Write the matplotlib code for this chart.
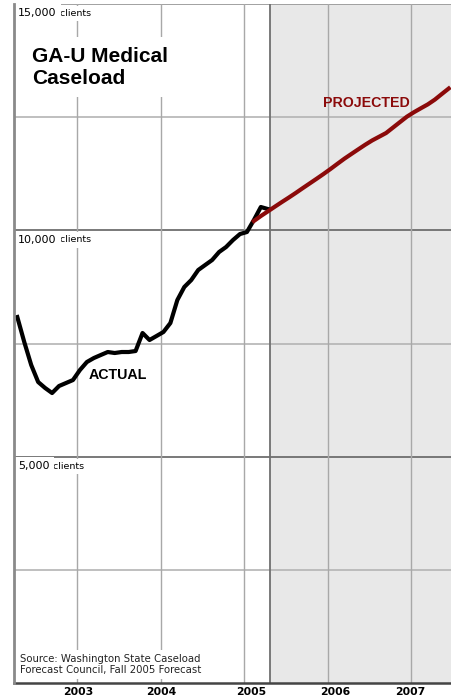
import matplotlib.pyplot as plt

# monthly caseload
actual_start = (2002, 4)
actual = [8085, 7533, 7025, 6649, 6517, 6406, 6561, 6627, 6693, 6914,
          7091, 7179, 7246, 7312, 7290, 7312, 7312, 7334, 7732, 7577,
          7665, 7754, 7952, 8460, 8748, 8902, 9123, 9234, 9344, 9521,
          9631, 9786, 9918, 9963, 10228, 10515, 10471]

projected_start = (2005, 2)
projected = [10206, 10316, 10418, 10521, 10623, 10722, 10824, 10930, 11034, 11138,
             11244, 11354, 11469, 11582, 11686, 11789, 11891, 11986, 12068, 12150,
             12271, 12392, 12512, 12609, 12697, 12783, 12887, 13011, 13133]

years = [2003, 2004, 2005, 2006, 2007]
year_label_pos = [2003.02, 2004.01, 2005.09, 2006.09, 2006.99]
forecast_start = 2005.31
major_levels = [5000, 10000, 15000]
major_labels = ['5,000', '10,000', '15,000']
minor_levels = [2500, 7500, 12500]


def months(start, n):
    y, m = start
    base = y + (m - 1 + 0.42) / 12
    return [base + i / 12 for i in range(n)]


t_act = months(actual_start, len(actual))
t_proj = months(projected_start, len(projected))

fig = plt.figure(figsize=(4.51, 6.98), dpi=100)
ax = fig.add_axes([14 / 451, 15 / 698, 437 / 451, 679 / 698])
ax.set_xlim(2002.2455, 2007.479)
ax.set_ylim(0, 15000)

# shaded forecast period
ax.axvspan(forecast_start, 2008, color='#e8e8e8', zorder=0, lw=0)

for lv in minor_levels:
    ax.axhline(lv, color='#b4b4b4', lw=1.2, zorder=1)
for lv in major_levels:
    ax.axhline(lv, color='#6e6e6e' if lv < 15000 else '#9a9a9a', lw=1.3, zorder=1)
for y in years:
    ax.axvline(y, color='#a8a8a8', lw=1.0, zorder=1)
ax.axvline(forecast_start, color='#707070', lw=1.3, zorder=1)

ax.plot(t_act, actual, color='black', lw=3, zorder=4)
ax.plot(t_proj, projected, color='#8b0a0a', lw=3, zorder=5)

# value labels with white boxes that cut the gridlines
for lv, lab in zip(major_levels, major_labels):
    t1 = ax.annotate(lab, xy=(0, lv), xycoords=('axes fraction', 'data'),
                     xytext=(3, -3), textcoords='offset points',
                     ha='left', va='top', fontsize=8, family='DejaVu Sans', zorder=3.5,
                     bbox=dict(boxstyle='square,pad=0.35', fc='white', ec='none'))
    ax.annotate(' clients', xy=(1, 0), xycoords=t1, ha='left', va='bottom',
                fontsize=6.8, family='DejaVu Sans', zorder=3,
                bbox=dict(boxstyle='square,pad=0.35', fc='white', ec='none'))

ax.text(0.042, 0.937, 'GA-U Medical\nCaseload', transform=ax.transAxes,
        ha='left', va='top', fontsize=15, fontweight='bold', family='Liberation Sans',
        linespacing=1.2, zorder=3,
        bbox=dict(boxstyle='square,pad=0.45', fc='white', ec='none'))

ax.text(2003.485, 6804, 'ACTUAL', ha='center', va='center', fontsize=10.3,
        fontweight='bold', family='Liberation Sans', zorder=6)
ax.text(2006.46, 12812, 'PROJECTED', ha='center', va='center', fontsize=10.2,
        fontweight='bold', family='Liberation Sans', color='#8b0a0a', zorder=6)

ax.text(0.013, 0.012, 'Source: Washington State Caseload\nForecast Council, Fall 2005 Forecast',
        transform=ax.transAxes, ha='left', va='bottom', fontsize=7.3,
        family='DejaVu Sans', color='#222222', linespacing=1.05, zorder=3,
        bbox=dict(boxstyle='square,pad=0.4', fc='white', ec='none'))

ax.set_xticks(year_label_pos)
ax.set_xticklabels([str(y) for y in years], fontsize=7.8, fontweight='bold', family='DejaVu Sans')
ax.tick_params(axis='x', length=0, pad=3)
ax.set_yticks([])

for s in ['top', 'right']:
    ax.spines[s].set_visible(False)
ax.spines['left'].set_color('#8a8a8a')
ax.spines['left'].set_linewidth(2)
ax.spines['bottom'].set_color('#444444')
ax.spines['bottom'].set_linewidth(1.8)
ax.spines['left'].set_zorder(6)

fig.savefig('out.png', dpi=100, facecolor='white')
